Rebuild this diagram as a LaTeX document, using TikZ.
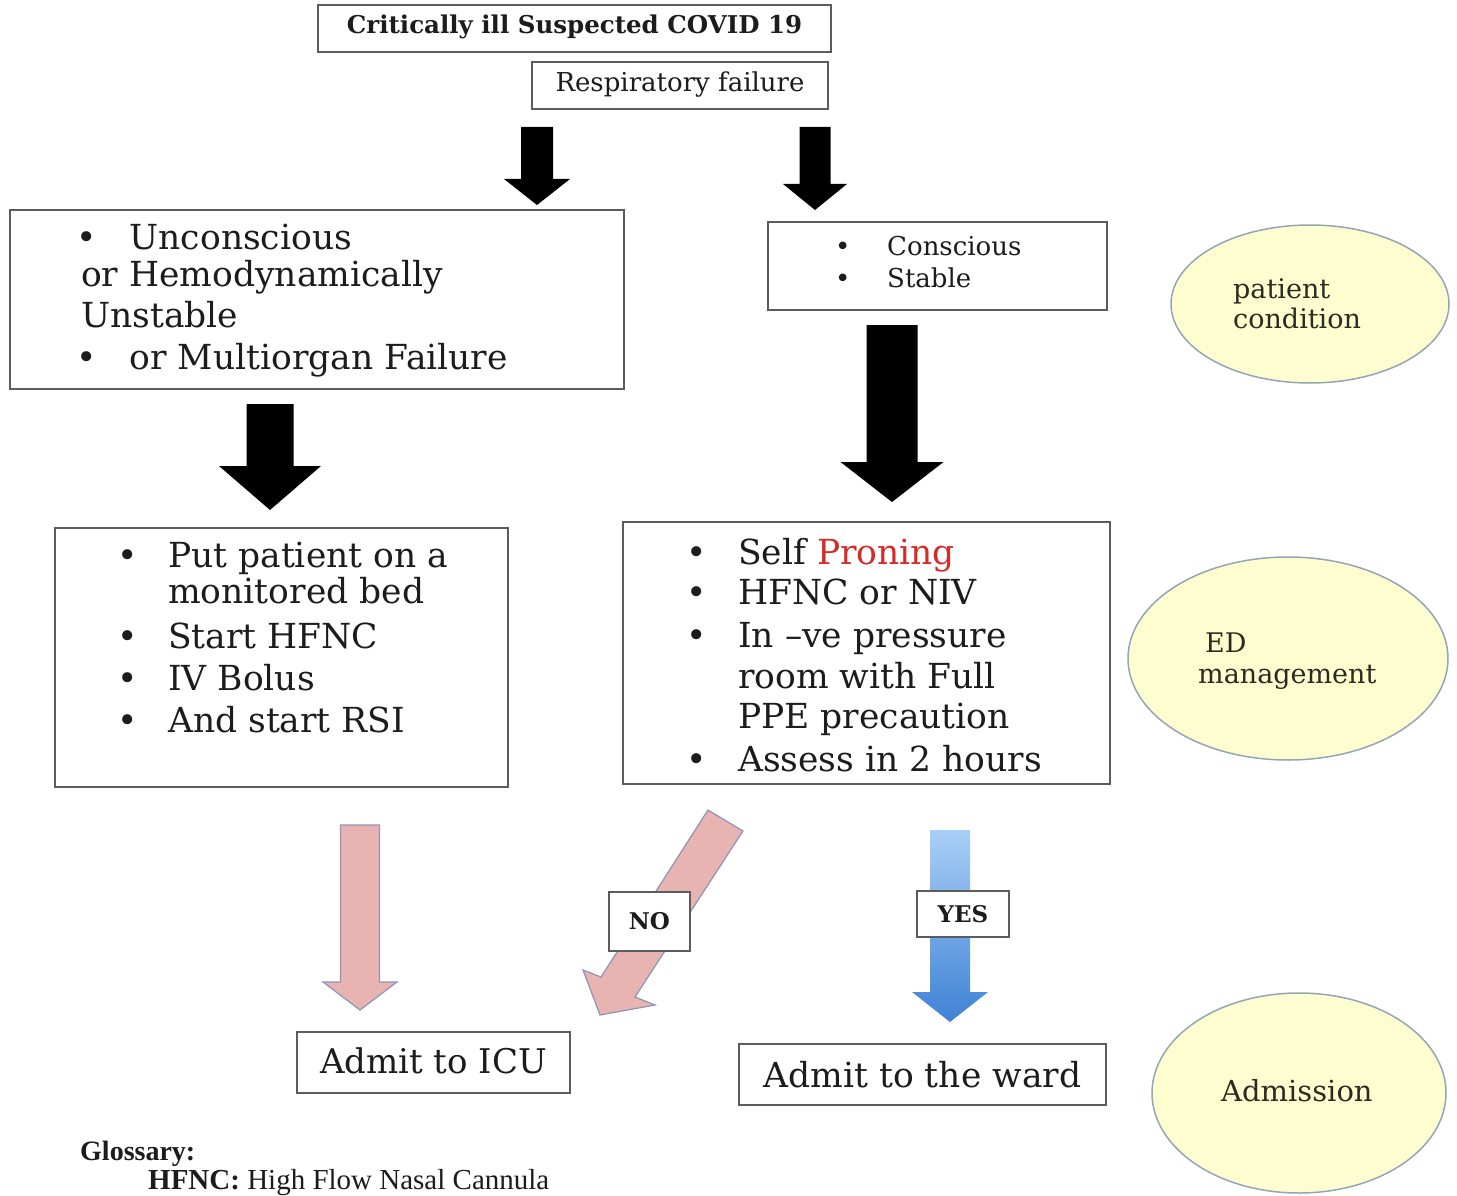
\documentclass[tikz,border=0pt]{standalone}
\usepackage{fontspec}
\setmainfont{DejaVu Serif}
\newfontfamily\glossfont{Liberation Serif}
\usetikzlibrary{shapes.geometric,fit}
\definecolor{ink}{HTML}{1C1C1C}
\definecolor{ellink}{HTML}{2B2B22}
\definecolor{boxgray}{HTML}{5C5C5C}
\definecolor{ellfill}{HTML}{FDFDCF}
\definecolor{elledge}{HTML}{95A5B8}
\definecolor{pinkfill}{HTML}{E8B4B2}
\definecolor{pinkedge}{HTML}{8E93B8}
\definecolor{bluetop}{HTML}{A9CFF7}
\definecolor{bluebot}{HTML}{3F82D5}
\definecolor{pronred}{HTML}{D42A2A}
\newcommand{\fs}[1]{\fontsize{#1}{#1}\selectfont}
\newcommand{\bul}[1]{\makebox[#1][l]{\textbullet}}
% vertical block arrow: style, cx, top, head-y, tip-y, half shaft, half head
\newcommand{\varrow}[7]{\path[#1] ({#2-#6},#3) -- ({#2+#6},#3) -- ({#2+#6},#4) -- ({#2+#7},#4) -- (#2,#5) -- ({#2-#7},#4) -- ({#2-#6},#4) -- cycle;}
\begin{document}
\begin{tikzpicture}[x=1pt,y=-1pt,
  box/.style={draw=boxgray, line width=1.5pt, fill=white, inner sep=0pt},
  lbl/.style={anchor=center, inner sep=0pt, text=ink},
  txt/.style={anchor=base west, inner sep=0pt, text=ink},
  body/.style={txt, font=\fs{34.5}},
  small/.style={txt, font=\fs{26}},
  elltxt/.style={anchor=base west, inner sep=0pt, text=ellink},
  ell/.style={ellipse, draw=elledge, line width=1.5pt, fill=ellfill, inner sep=0pt},
  blackarrow/.style={fill=black},
  pinkarrow/.style={fill=pinkfill, draw=pinkedge, line width=1.2pt, line join=miter},
  bluearrow/.style={top color=bluetop, bottom color=bluebot}]
\useasboundingbox (0,0) rectangle (1457,1196);
\fill[white] (0,0) rectangle (1457,1196);

% ---- top boxes
\node[box, fit={(318,5) (831,52)}] (crit) {};
\node[lbl, font=\bfseries\fs{24.5}] (critt) at ([yshift=2pt]crit.center) {Critically ill Suspected COVID 19};
\node[box, fit={(532,62) (828,109)}] (resp) {};
\node[lbl, font=\fs{26}] (respt) at ([yshift=1pt]resp.center) {Respiratory failure};

% ---- black arrows
\varrow{blackarrow}{537}{127}{179}{205}{16}{33}
\varrow{blackarrow}{815}{127}{184}{210}{15.5}{32}
\varrow{blackarrow}{270}{404}{466}{510}{23.5}{51}
\varrow{blackarrow}{892}{325}{462}{502}{25.5}{51.5}

% ---- condition boxes
\node[box, fit={(10,210) (624,389)}] (unst) {};
\node[body] (u1) at (76,249) {\bul{53.5pt}Unconscious};
\node[body] (u2) at (81,286) {or Hemodynamically};
\node[body] (u3) at (81,327) {Unstable};
\node[body] (u4) at (76,369) {\bul{53.5pt}or Multiorgan Failure};

\node[box, fit={(768,222) (1107,310)}] (stab) {};
\node[small] (s1) at (835,255) {\bul{52pt}Conscious};
\node[small] (s2) at (835,287) {\bul{52pt}Stable};

% ---- management boxes
\node[box, fit={(55,528) (508,787)}] (icum) {};
\node[body] (m1) at (117,567) {\bul{51pt}Put patient on a};
\node[body] (m2) at (168,603) {monitored bed};
\node[body] (m3) at (117,648) {\bul{51pt}Start HFNC};
\node[body] (m4) at (117,690) {\bul{51pt}IV Bolus};
\node[body] (m5) at (117,732) {\bul{51pt}And start RSI};

\node[box, fit={(623,522) (1110,784)}] (wardm) {};
\node[body] (w1) at (686,564) {\bul{52pt}Self \textcolor{pronred}{Proning}};
\node[body] (w2) at (686,604) {\bul{52pt}HFNC or NIV};
\node[body] (w3) at (686,647) {\bul{52pt}In –ve pressure};
\node[body] (w4) at (738,688) {room with Full};
\node[body] (w5) at (738,728) {PPE precaution};
\node[body] (w6) at (686,771) {\bul{52pt}Assess in 2 hours};

% ---- coloured arrows
\varrow{pinkarrow}{360}{825}{982}{1010}{19.5}{37}
\path[pinkarrow] (708,810) -- (743,831) -- (635,997) -- (655,1005) -- (600,1015) -- (583,970) -- (601,977) -- cycle;
\varrow{bluearrow}{950}{830}{992}{1022}{20}{38}

\node[box, fit={(609,892) (690,951)}] (no) {};
\node[lbl, font=\bfseries\fs{23}] (not) at (no.center) {NO};
\node[box, fit={(917,891) (1009,937)}] (yes) {};
\node[lbl, font=\bfseries\fs{23}] (yest) at (yes.center) {YES};

% ---- admission boxes
\node[box, fit={(297,1032) (570,1093)}] (icu) {};
\node[lbl, font=\fs{34}] (icut) at ([yshift=2pt]icu.center) {Admit to ICU};
\node[box, fit={(739,1044) (1106,1105)}] (ward) {};
\node[lbl, font=\fs{34.5}] (wardt) at (ward.center) {Admit to the ward};

% ---- side ellipses
\node[ell, minimum width=278pt, minimum height=158pt] (pc) at (1310,304) {};
\node[elltxt, font=\fs{27}] (pc1) at (1233,298) {patient};
\node[elltxt, font=\fs{27}] (pc2) at (1233,328) {condition};

\node[ell, minimum width=320pt, minimum height=203pt] (ed) at (1288,658.5) {};
\node[elltxt, font=\fs{27}] (ed1) at (1205,652) {ED};
\node[elltxt, font=\fs{27}] (ed2) at (1198,683) {management};

\node[ell, minimum width=294pt, minimum height=200pt] (adm) at (1299,1093) {};
\node[elltxt, font=\fs{29}] (adm1) at (1221,1101) {Admission};

% ---- glossary
\node[txt, font=\glossfont\bfseries\fs{28}] (gloss) at (80,1160) {Glossary:};
\node[txt, font=\glossfont\fs{29}] (hfnc) at (148,1189) {\textbf{HFNC:} High Flow Nasal Cannula};
\end{tikzpicture}
\end{document}
